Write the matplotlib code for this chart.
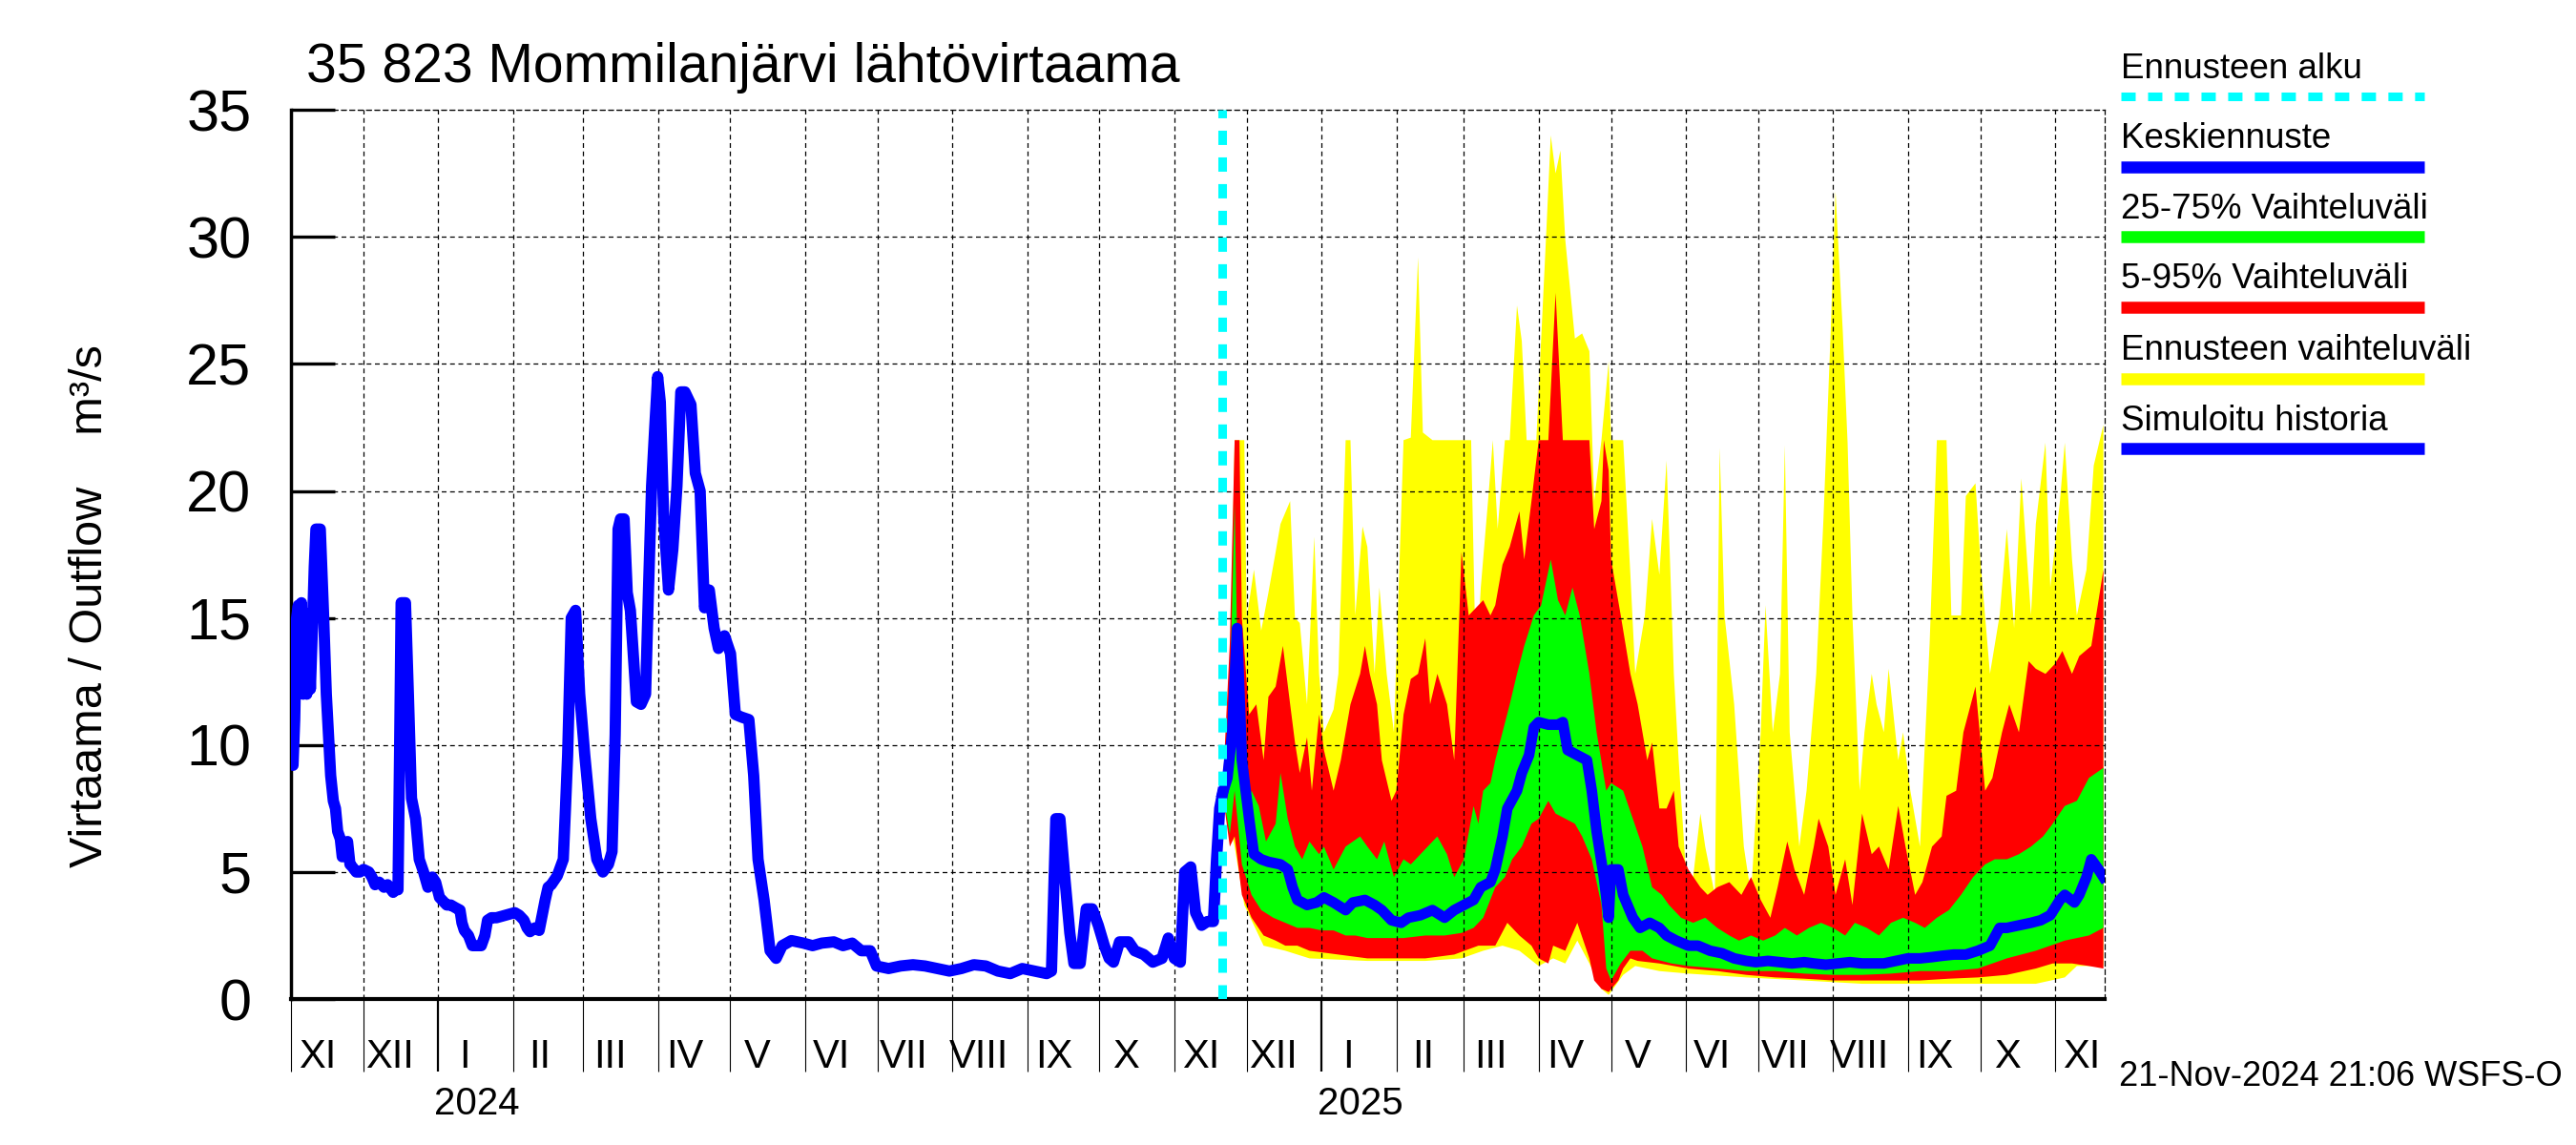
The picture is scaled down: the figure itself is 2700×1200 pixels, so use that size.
"""Mommilanjarvi outflow: simulated history and one year ensemble forecast."""

from datetime import datetime, timedelta

import matplotlib
matplotlib.use("Agg")
import matplotlib.pyplot as plt
import matplotlib.dates as mdates
import matplotlib.transforms as mtransforms
from matplotlib.lines import Line2D


HIST_START = datetime(2023, 11, 1)
FC_START = datetime(2024, 11, 21)
X_END = datetime(2025, 11, 21, 12)

FONT = ["Liberation Sans", "DejaVu Sans"]

ROMAN = ["I", "II", "III", "IV", "V", "VI", "VII", "VIII", "IX", "X", "XI", "XII"]

# Simulated history (days after 1 Nov 2023, m3/s)
hist_days = [0, 0.8, 1.5, 2.3, 3.0, 3.6, 4.3, 5.0, 5.8, 6.5, 7.3, 8.0, 8.8, 9.6, 10.3,
             12.1, 13.4, 14.6, 16.4, 17.5, 18.4, 19.3, 20.4, 21.2, 22.2, 23.4, 24.4,
             25.4, 27, 28.5, 30, 32.2, 33.5, 34.8, 36.5, 38.5, 40, 42.3, 43.5, 44.3,
             45.0, 45.6, 47.4, 48.6, 49.9, 51.6, 53.1, 54.9, 56.7, 58.5, 59.9, 61.5,
             62.5, 64.5, 66.2, 68, 70, 70.8, 71.8, 73.5, 75.1, 78.8, 80.3, 81.4, 83,
             85.1, 88.9, 92.7, 94.5, 96.5, 97.8, 99, 101, 102.8, 105.3, 106.5, 107.8,
             110.3, 112.8, 113.7, 114.6, 116.1, 117.9, 119.6, 121.7, 124.2, 126.7,
             129.2, 131.5, 133, 134.3, 135.5, 136.5, 138, 139.3, 140.6, 143.1, 145,
             146.9, 148.1, 149.4, 150.7, 151.9, 153, 154.4, 156.4, 158.2, 159.9, 161.5,
             163.2, 165.7, 167.5, 169.5, 171.3, 173.3, 175.3, 177.1, 179.6, 182.1,
             184.1, 186.6, 189.7, 191.7, 193.5, 196, 198.5, 201, 203.5, 207.3, 212.3,
             216.1, 219.9, 224.9, 228.7, 232.5, 236.3, 240, 242.6, 247.6, 252.6, 257.7,
             262.7, 267.8, 272.8, 277.8, 282.9, 287.9, 292.9, 298, 303, 308.1, 313.1,
             315.1, 316.9, 318.6, 320.7, 322.7, 324.4, 327, 329.5, 332, 334.5, 337,
             339, 340.8, 343.3, 347.1, 349.6, 353.4, 357.1, 360.9, 363.5, 366, 368.5,
             370.3, 372.8, 374.8, 377.3, 379.7, 382.2, 383.5, 384.8, 386]
hist_flow = [10.0, 9.2, 11, 15.0, 15.5, 12.5, 15.6, 12.0, 15.2, 12.0, 14.5, 12.2, 14.5,
             17.0, 18.5, 18.5, 15.3, 12.0, 8.8, 7.8, 7.5, 6.6, 6.3, 5.6, 5.8, 6.2, 5.3,
             5.2, 5.0, 5.0, 5.1, 5.0, 4.8, 4.5, 4.6, 4.4, 4.5, 4.2, 4.4, 4.3, 10.0, 15.6,
             15.6, 12.0, 7.9, 7.1, 5.5, 5.0, 4.4, 4.8, 4.6, 4.0, 3.9, 3.7, 3.7, 3.6, 3.5,
             3.0, 2.7, 2.5, 2.1, 2.1, 2.5, 3.1, 3.2, 3.2, 3.3, 3.4, 3.3, 3.1, 2.8, 2.65,
             2.8, 2.7, 3.9, 4.4, 4.5, 4.85, 5.5, 7.5, 9.6, 15.0, 15.3, 12.0, 9.6, 7.1,
             5.5, 5.0, 5.3, 5.8, 10.4, 18.5, 18.9, 18.9, 16.0, 15.3, 11.7, 11.6, 12.0,
             16.1, 20.2, 22.5, 24.5, 23.5, 19.0, 16.1, 17.7, 20.2, 23.9, 23.9, 23.4,
             20.7, 20.0, 15.4, 16.1, 14.6, 13.8, 14.3, 13.6, 11.2, 11.1, 11.0, 8.8, 5.5,
             3.9, 1.9, 1.6, 2.1, 2.3, 2.2, 2.1, 2.2, 2.25, 2.1, 2.2, 1.9, 1.9, 1.3, 1.2,
             1.3, 1.35, 1.3, 1.2, 1.1, 1.2, 1.35, 1.3, 1.1, 1.0, 1.2, 1.1, 1.0, 1.1, 7.1,
             7.1, 4.7, 2.6, 1.4, 1.4, 3.55, 3.55, 2.9, 2.1, 1.6, 1.45, 2.25, 2.25, 1.9,
             1.75, 1.45, 1.6, 2.4, 1.6, 1.45, 5.0, 5.2, 3.4, 2.9, 3.05, 3.05, 5.5, 7.5,
             8.1]

# Forecast envelopes (days after 21 Nov 2024, m3/s)
ytop_days = [0, 3, 5, 9, 10, 13, 16, 19, 22, 24, 28, 30, 32, 35, 38, 40, 42, 46, 48, 51,
             53, 55, 58, 60, 63, 65, 68, 71, 75, 78, 81, 83, 87, 103, 105, 107, 110, 112,
             114, 117, 119, 122, 124, 126, 130, 134, 136, 138, 140, 142, 146, 149, 152,
             154, 157, 160, 161, 166, 169, 171, 175, 178, 181, 184, 187, 189, 192, 195,
             198, 200, 204, 206, 208, 212, 216, 219, 223, 225, 228, 231, 233, 235, 239,
             242, 246, 249, 252, 254, 257, 259, 261, 264, 266, 269, 271, 274, 276, 280,
             282, 285, 289, 293, 296, 300, 302, 306, 308, 312, 314, 318, 322, 325, 328,
             331, 335, 337, 341, 343, 347, 349, 352, 354, 358, 361, 365]
ytop = [8.1, 12, 22, 22, 15, 16.9, 14.5, 16, 17.6, 18.7, 19.6, 15, 14.8, 11.6, 18.2,
        12.8, 10.5, 11.4, 12.8, 22, 22, 15.1, 18.6, 17.8, 12.8, 16.2, 12.8, 10.5, 22,
        22.1, 29.2, 22.3, 22, 22, 12.8, 16.2, 19.6, 22, 18.5, 22, 22, 27.3, 25.9, 22, 22,
        29.9, 34.0, 32.5, 33.4, 29.9, 26.0, 26.2, 25.5, 19.6, 22, 25.1, 22, 22, 16.7,
        12.8, 15.1, 18.9, 16.7, 21.2, 12.8, 9.4, 5.0, 4.8, 7.3, 6.0, 4.1, 21.7, 15.1,
        11.6, 6.0, 4.1, 10.5, 15.5, 10.5, 12.8, 21.8, 10.5, 6.0, 8.2, 12.8, 18.9, 26.3,
        31.8, 26.3, 21.9, 15.1, 8.2, 10.5, 12.8, 11.6, 10.5, 13.0, 9.4, 10.5, 8.2, 6.0,
        14.0, 22, 22, 15.1, 15.1, 19.8, 20.3, 17.3, 12.8, 15.1, 18.5, 14.6, 20.5, 15.1,
        18.7, 21.9, 16.2, 19.6, 21.9, 17.3, 15.1, 16.9, 21.0, 22.6]
ybot_days = [0, 5, 9, 17, 26, 36, 60, 84, 99, 108, 116, 123, 131, 137, 142, 147, 152,
             157, 160, 166, 171, 181, 193, 217, 241, 265, 289, 313, 337, 349, 354, 365]
ybot = [8.1, 6.0, 3.7, 2.1, 1.9, 1.6, 1.5, 1.5, 1.6, 1.9, 2.1, 1.9, 1.3, 1.6, 1.4, 2.3,
        1.4, 0.4, 0.16, 0.95, 1.3, 1.1, 1.0, 0.85, 0.73, 0.6, 0.6, 0.6, 0.6, 0.85, 1.3,
        1.3]

rtop_days = [0, 3, 5, 7, 8, 11, 14, 17, 19, 22, 25, 28, 30, 32, 35, 37, 40, 42, 46, 49,
             53, 57, 59, 61, 64, 66, 70, 72, 75, 78, 81, 84, 86, 89, 93, 96, 99, 102, 106,
             108, 111, 113, 116, 119, 123, 125, 128, 131, 135, 138, 141, 152, 154, 157,
             158, 160, 161, 165, 169, 172, 176, 178, 181, 184, 187, 189, 193, 198, 201,
             205, 210, 215, 219, 223, 227, 230, 234, 237, 241, 245, 247, 251, 254, 258,
             261, 265, 269, 272, 276, 280, 283, 287, 290, 294, 298, 300, 304, 307, 312,
             316, 319, 323, 326, 330, 334, 337, 341, 345, 348, 352, 355, 360, 365]
rtop = [8.1, 14, 22, 22, 15, 11.2, 11.6, 9.4, 11.9, 12.3, 13.9, 11.6, 10.1, 8.9, 10.3,
        8.2, 11.2, 9.8, 8.2, 9.4, 11.6, 12.8, 13.9, 12.8, 11.6, 9.4, 7.8, 8.2, 11.2, 12.6,
        12.8, 14.2, 11.6, 12.8, 11.6, 9.4, 17.6, 15.1, 15.5, 15.7, 15.1, 15.5, 17.1,
        17.8, 19.2, 17.3, 19.6, 22, 22, 27.8, 22, 22, 18.5, 19.6, 22, 20.8, 17.3, 15.1,
        12.8, 11.6, 9.4, 10.1, 7.5, 7.5, 8.2, 6.0, 5.1, 4.4, 4.1, 4.4, 4.6, 4.1, 4.8,
        3.9, 3.2, 4.4, 6.2, 5.1, 4.1, 6.0, 7.1, 6.0, 4.1, 5.5, 3.7, 7.3, 5.7, 6.0, 5.1,
        7.6, 6.0, 4.1, 4.6, 6.0, 6.4, 8.0, 8.2, 10.5, 12.3, 8.2, 8.7, 10.5, 11.6, 10.5,
        13.3, 13.0, 12.8, 13.2, 13.7, 12.8, 13.5, 13.9, 16.9]
rbot_days = [0, 3, 5, 8, 12, 17, 22, 26, 31, 36, 48, 60, 72, 84, 96, 106, 113, 118, 123,
             128, 131, 135, 137, 142, 147, 152, 154, 157, 160, 164, 166, 169, 172, 181,
             193, 205, 217, 229, 241, 253, 265, 277, 289, 301, 313, 325, 337, 344, 352,
             359, 365]
rbot = [8.1, 6.0, 6.4, 4.1, 3.2, 2.5, 2.3, 2.1, 2.1, 1.9, 1.75, 1.6, 1.6, 1.6, 1.75, 2.1,
        2.1, 3.0, 2.5, 2.1, 1.6, 1.4, 2.1, 1.9, 3.0, 1.6, 0.73, 0.4, 0.27, 0.73, 1.2,
        1.6, 1.5, 1.4, 1.2, 1.1, 0.95, 0.85, 0.8, 0.73, 0.73, 0.73, 0.73, 0.8, 0.85,
        0.95, 1.2, 1.4, 1.4, 1.3, 1.2]

gtop_days = [0, 3, 5, 7, 10, 12, 15, 18, 22, 24, 27, 30, 33, 36, 40, 42, 46, 51, 57, 60,
             64, 67, 71, 75, 78, 82, 85, 89, 93, 96, 100, 104, 106, 108, 111, 113, 116,
             119, 122, 125, 129, 132, 136, 139, 142, 145, 148, 152, 155, 159, 161, 166,
             170, 174, 178, 182, 185, 190, 195, 200, 205, 210, 214, 219, 224, 229, 233,
             238, 243, 248, 253, 258, 262, 267, 272, 277, 282, 287, 291, 296, 301, 306,
             311, 316, 320, 325, 330, 335, 340, 344, 349, 354, 359, 365]
gtop = [8.1, 12, 19.5, 9.4, 7.6, 8.2, 7.6, 6.2, 6.9, 8.9, 7.1, 6.0, 5.5, 6.2, 5.7, 6.0,
        5.1, 6.0, 6.4, 6.0, 5.5, 6.2, 4.8, 5.5, 5.3, 5.7, 6.0, 6.4, 5.7, 4.8, 5.5, 7.6,
        6.9, 8.2, 8.5, 9.4, 10.5, 11.6, 12.8, 13.9, 15.1, 15.5, 17.3, 15.7, 15.1, 16.2,
        15.1, 12.8, 10.5, 8.2, 8.5, 8.2, 7.1, 6.0, 4.4, 4.1, 3.7, 3.2, 3.0, 3.2, 2.8,
        2.5, 2.3, 2.5, 2.3, 2.5, 2.8, 2.5, 2.8, 3.0, 2.8, 2.5, 3.0, 2.8, 2.5, 3.0, 3.2,
        3.0, 2.8, 3.2, 3.5, 4.1, 4.8, 5.3, 5.5, 5.5, 5.7, 6.0, 6.4, 6.9, 7.6, 7.8, 8.7,
        9.1]
gbot_days = [0, 3, 5, 8, 12, 16, 21, 26, 31, 36, 41, 46, 51, 55, 60, 67, 75, 84, 92, 99,
             104, 108, 113, 117, 120, 124, 128, 131, 135, 138, 142, 146, 149, 153, 157,
             159, 161, 165, 169, 174, 178, 186, 193, 205, 217, 229, 241, 253, 265, 277,
             289, 301, 313, 325, 337, 349, 359, 365]
gbot = [8.1, 6.5, 8.2, 5.3, 4.1, 3.5, 3.2, 3.0, 2.8, 2.8, 2.7, 2.7, 2.5, 2.5, 2.4, 2.4,
        2.4, 2.5, 2.5, 2.6, 2.8, 3.2, 4.4, 4.8, 5.5, 6.0, 6.9, 7.1, 7.8, 7.3, 7.1, 6.9,
        6.4, 5.5, 3.7, 1.2, 0.73, 1.4, 1.9, 1.9, 1.6, 1.4, 1.3, 1.2, 1.1, 1.1, 1.0, 0.95,
        0.95, 1.0, 1.1, 1.1, 1.2, 1.6, 1.9, 2.3, 2.5, 2.8]

med_days = [0, 2, 4, 6, 8, 11, 13, 16, 19, 24, 27, 29, 31, 35, 39, 42, 46, 51, 54, 59, 63,
            66, 70, 74, 77, 82, 87, 92, 96, 100, 104, 107, 111, 113, 116, 118, 122, 124,
            127, 129, 131, 135, 139, 141, 143, 147, 151, 153, 155, 158, 160, 161, 164,
            166, 170, 173, 177, 181, 184, 188, 193, 197, 202, 207, 212, 217, 221, 226,
            231, 236, 241, 245, 250, 255, 260, 265, 270, 274, 279, 284, 289, 294, 298,
            303, 308, 313, 318, 322, 325, 330, 335, 339, 343, 347, 349, 353, 355, 358,
            360, 363, 365]
med = [8.1, 8.7, 10.5, 14.6, 9.4, 7.1, 5.7, 5.5, 5.4, 5.3, 5.1, 4.4, 3.9, 3.7, 3.8, 4.0,
       3.8, 3.5, 3.8, 3.9, 3.7, 3.5, 3.1, 3.0, 3.2, 3.3, 3.5, 3.2, 3.5, 3.7, 3.9, 4.4,
       4.6, 5.1, 6.4, 7.5, 8.2, 8.9, 9.6, 10.7, 10.9, 10.8, 10.8, 10.9, 9.8, 9.6, 9.4,
       8.2, 6.6, 4.8, 3.2, 5.1, 5.1, 4.1, 3.2, 2.8, 3.0, 2.8, 2.5, 2.3, 2.1, 2.1, 1.9,
       1.8, 1.6, 1.5, 1.45, 1.5, 1.45, 1.4, 1.45, 1.4, 1.35, 1.4, 1.45, 1.4, 1.4, 1.4,
       1.5, 1.6, 1.6, 1.65, 1.7, 1.75, 1.75, 1.9, 2.1, 2.8, 2.8, 2.9, 3.0, 3.1, 3.3, 3.9,
       4.1, 3.8, 4.1, 4.8, 5.5, 5.1, 4.8]


def to_dates(start: datetime, days: list) -> list:
    """Turn day offsets into datetimes."""
    return [start + timedelta(days=d) for d in days]


def fill_band(ax, top_days, top, bot_days, bot, color) -> None:
    """Fill the area between an upper and a lower curve."""
    xs = mdates.date2num(to_dates(FC_START, top_days) + to_dates(FC_START, bot_days)[::-1])
    ys = list(top) + list(bot)[::-1]
    ax.fill(xs, ys, color=color, linewidth=0, zorder=1)


def main() -> None:
    """Draw the chart."""
    fig = plt.figure(figsize=(27, 12), dpi=100)
    ax = fig.add_axes([0.113, 0.1275, 0.704, 0.7765])

    fill_band(ax, ytop_days, ytop, ybot_days, ybot, "#ffff00")
    fill_band(ax, rtop_days, rtop, rbot_days, rbot, "#ff0000")
    fill_band(ax, gtop_days, gtop, gbot_days, gbot, "#00ff00")
    ax.plot(to_dates(FC_START, med_days), med, color="#0000ff", lw=8, zorder=3)
    ax.plot(to_dates(HIST_START, hist_days), hist_flow, color="#0000ff", lw=8.5, zorder=3)
    ax.axvline(FC_START, color="#00ffff", lw=6.5, linestyle=(0, (1.66, 1.44)), zorder=4)

    ax.set_xlim(HIST_START, X_END)
    ax.set_ylim(0, 35)
    ax.set_axisbelow("line")

    # y axis
    ax.set_yticks(range(0, 36, 5))
    ax.tick_params(axis="y", direction="in", length=33, width=2.4, pad=30, labelsize=44)
    for lab in ax.get_yticklabels():
        lab.set_family(FONT)
    ax.grid(True, axis="y", color="black", linestyle=(0, (4, 3)), linewidth=0.9)

    # x axis: month boundaries, thicker at new year
    ax.xaxis.set_major_locator(mdates.MonthLocator(bymonth=1))
    ax.xaxis.set_minor_locator(mdates.MonthLocator())
    ax.xaxis.set_major_formatter(plt.NullFormatter())
    ax.xaxis.set_minor_formatter(plt.NullFormatter())
    ax.tick_params(axis="x", which="major", direction="out", length=55, width=1.6)
    ax.tick_params(axis="x", which="minor", direction="out", length=55, width=0.8)
    ax.grid(True, axis="x", which="both", color="black", linestyle=(0, (4, 3)), linewidth=0.9)

    trans = mtransforms.blended_transform_factory(ax.transData, ax.transAxes)
    month = datetime(HIST_START.year, HIST_START.month, 12)
    while month < X_END:
        ax.text(month, -0.066, ROMAN[month.month - 1], transform=trans, ha="center",
                va="center", fontsize=30, family=FONT)
        if month.month == 1:
            ax.text(month + timedelta(days=5), -0.118, str(month.year), transform=trans,
                    ha="center", va="center", fontsize=29, family=FONT)
        if month.month == 12:
            month = datetime(month.year + 1, 1, 12)
        else:
            month = datetime(month.year, month.month + 1, 12)

    # frame
    ax.spines["left"].set_linewidth(2.5)
    ax.spines["bottom"].set_linewidth(3)
    for side in ("top", "right"):
        ax.spines[side].set_linestyle((0, (4, 3)))
        ax.spines[side].set_linewidth(0.9)

    fig.text(0.119, 0.941, "35 823 Mommilanjärvi lähtövirtaama", fontsize=41,
             family=FONT, va="center", ha="left")
    fig.text(0.035, 0.471, "Virtaama / Outflow    m³/s", rotation=90, fontsize=35,
             family=FONT, va="center", ha="center")
    fig.text(0.8226, 0.06, "21-Nov-2024 21:06 WSFS-O", fontsize=26, family=FONT,
             va="center", ha="left")

    # legend
    legend_items = [
        ("Ennusteen alku", "#00ffff", (0, (1.66, 1.44))),
        ("Keskiennuste", "#0000ff", "-"),
        ("25-75% Vaihteluväli", "#00ff00", "-"),
        ("5-95% Vaihteluväli", "#ff0000", "-"),
        ("Ennusteen vaihteluväli", "#ffff00", "-"),
        ("Simuloitu historia", "#0000ff", "-"),
    ]
    text_y = [0.94, 0.879, 0.817, 0.756, 0.694, 0.6325]
    line_y = [0.9158, 0.854, 0.793, 0.7317, 0.669, 0.608]
    for (label, color, style), ty, ly in zip(legend_items, text_y, line_y):
        fig.text(0.8233, ty, label, fontsize=26.5, family=FONT, va="center", ha="left")
        fig.add_artist(Line2D([0.8233, 0.9411], [ly, ly], transform=fig.transFigure,
                              color=color, lw=6.5 if style != "-" else 9,
                              linestyle=style, solid_capstyle="butt"))

    fig.savefig("out.png", dpi=100)


if __name__ == "__main__":
    main()
